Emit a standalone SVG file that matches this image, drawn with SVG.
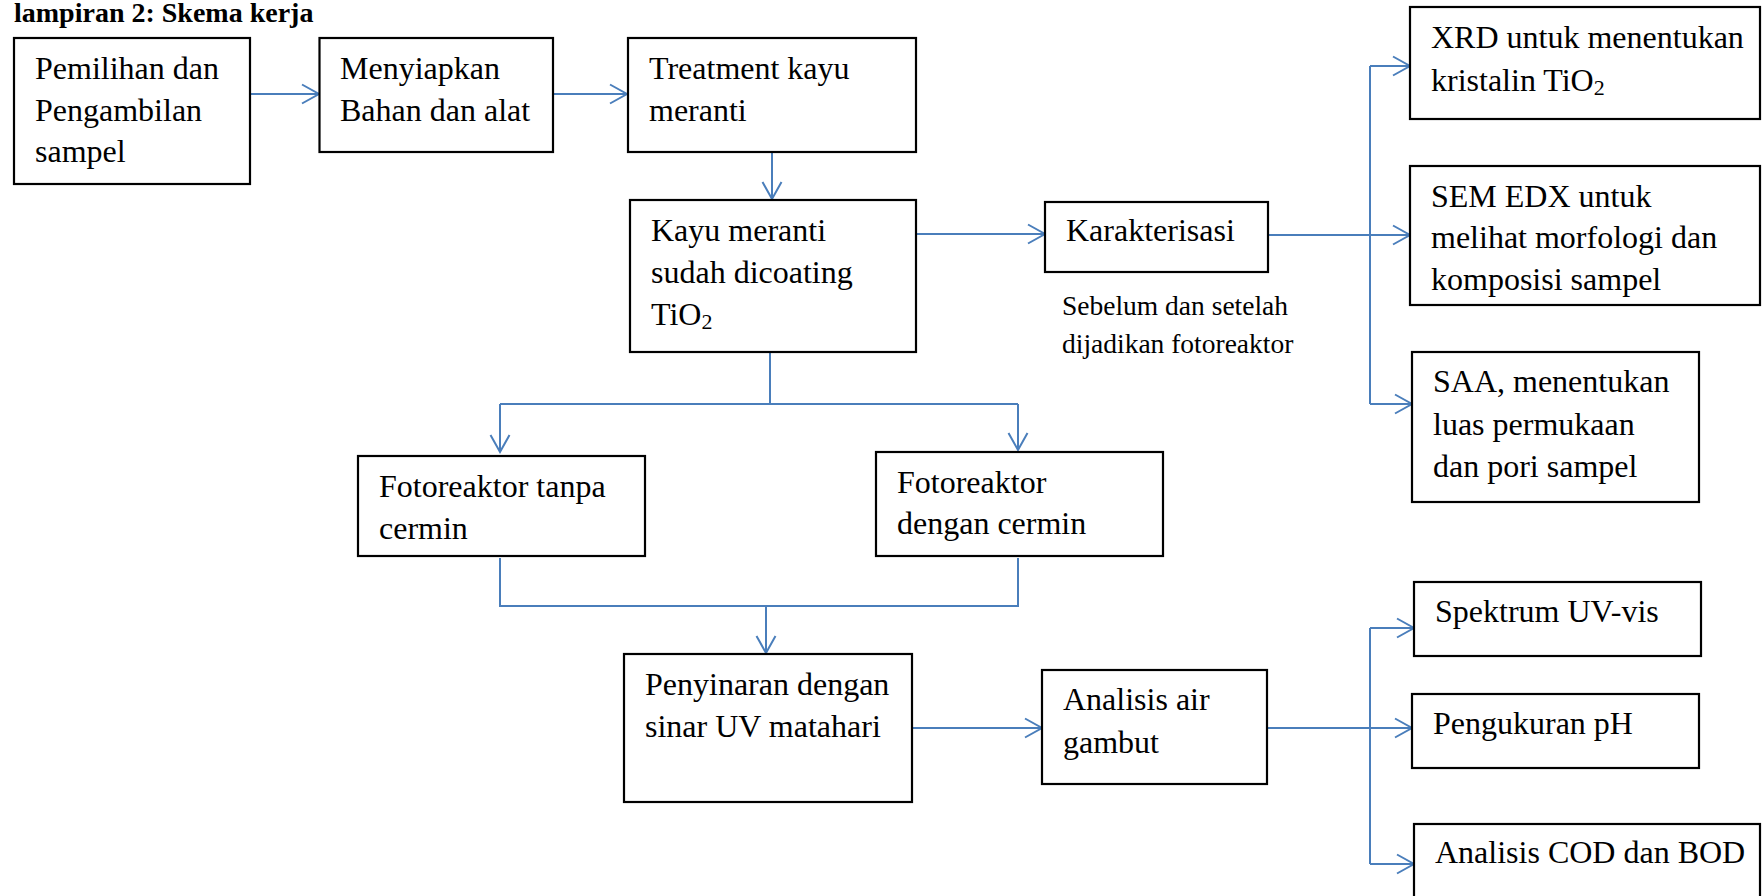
<svg xmlns="http://www.w3.org/2000/svg" width="1762" height="896" viewBox="0 0 1762 896">
<style>
  .box{fill:#fff;stroke:#000;stroke-width:2.2}
  .t{font-family:"Liberation Serif","Times New Roman",serif;font-size:32px;fill:#000}
  .note{font-family:"Liberation Serif","Times New Roman",serif;font-size:27.5px;fill:#000}
  .title{font-family:"Liberation Serif","Times New Roman",serif;font-size:28px;font-weight:bold;fill:#000}
  .c{fill:none;stroke:#4A7EBB;stroke-width:2}
  .a{marker-end:url(#ah)}
  .sub{font-size:22px}
</style>
<defs>
  <marker id="ah" markerUnits="userSpaceOnUse" markerWidth="24" markerHeight="24" viewBox="-20 -12 22 24" refX="0" refY="0" orient="auto" overflow="visible">
    <path d="M-17,-9.5 L0,0 L-17,9.5" fill="none" stroke="#4A7EBB" stroke-width="2"/>
  </marker>
</defs>
<rect width="1762" height="896" fill="#fff"/>
<text class="title" x="14" y="22">lampiran 2: Skema kerja</text>

<g id="connectors">
  <path class="c a" d="M250,94 H319"/>
  <path class="c a" d="M553,94 H627"/>
  <path class="c a" d="M772,152 V199"/>
  <path class="c a" d="M916,234 H1045"/>
  <path class="c" d="M1268,235 H1370"/>
  <path class="c" d="M1370,66 V404"/>
  <path class="c a" d="M1370,66 H1410"/>
  <path class="c a" d="M1370,235 H1410"/>
  <path class="c a" d="M1370,404 H1412"/>
  <path class="c" d="M770,352 V404"/>
  <path class="c" d="M500,404 H1018"/>
  <path class="c a" d="M500,404 V452"/>
  <path class="c a" d="M1018,404 V450"/>
  <path class="c" d="M500,558 V606 H1018 V558"/>
  <path class="c a" d="M766,606 V653"/>
  <path class="c a" d="M912,728 H1042"/>
  <path class="c" d="M1267,728 H1370"/>
  <path class="c" d="M1370,628 V864"/>
  <path class="c a" d="M1370,628 H1414"/>
  <path class="c a" d="M1370,728 H1412"/>
  <path class="c a" d="M1370,864 H1414"/>
</g>

<g id="n1"><rect class="box" x="14" y="38" width="236" height="146"/>
  <text class="t" x="35" y="79">Pemilihan dan</text>
  <text class="t" x="35" y="121">Pengambilan</text>
  <text class="t" x="35" y="162">sampel</text></g>

<g id="n2"><rect class="box" x="319.5" y="38" width="233.5" height="114"/>
  <text class="t" x="340" y="79">Menyiapkan</text>
  <text class="t" x="340" y="121">Bahan dan alat</text></g>

<g id="n3"><rect class="box" x="628" y="38" width="288" height="114"/>
  <text class="t" x="649" y="79">Treatment kayu</text>
  <text class="t" x="649" y="121">meranti</text></g>

<g id="n4"><rect class="box" x="630" y="200" width="286" height="152"/>
  <text class="t" x="651" y="241">Kayu meranti</text>
  <text class="t" x="651" y="283">sudah dicoating</text>
  <text class="t" x="651" y="325">TiO<tspan class="sub" dy="4">2</tspan></text></g>

<g id="n5"><rect class="box" x="1045" y="202" width="223" height="70"/>
  <text class="t" x="1066" y="241">Karakterisasi</text></g>

<g id="note"><text class="note" x="1062" y="315">Sebelum dan setelah</text>
  <text class="note" x="1062" y="353">dijadikan fotoreaktor</text></g>

<g id="n6"><rect class="box" x="1410" y="7" width="350" height="112"/>
  <text class="t" x="1431" y="48">XRD untuk menentukan</text>
  <text class="t" x="1431" y="91">kristalin TiO<tspan class="sub" dy="4">2</tspan></text></g>

<g id="n7"><rect class="box" x="1410" y="166" width="350" height="139"/>
  <text class="t" x="1431" y="207">SEM EDX untuk</text>
  <text class="t" x="1431" y="248">melihat morfologi dan</text>
  <text class="t" x="1431" y="290">komposisi sampel</text></g>

<g id="n8"><rect class="box" x="1412" y="352" width="287" height="150"/>
  <text class="t" x="1433" y="392">SAA, menentukan</text>
  <text class="t" x="1433" y="435">luas permukaan</text>
  <text class="t" x="1433" y="477">dan pori sampel</text></g>

<g id="n9"><rect class="box" x="358" y="456" width="287" height="100"/>
  <text class="t" x="379" y="497">Fotoreaktor tanpa</text>
  <text class="t" x="379" y="539">cermin</text></g>

<g id="n10"><rect class="box" x="876" y="452" width="287" height="104"/>
  <text class="t" x="897" y="493">Fotoreaktor</text>
  <text class="t" x="897" y="534">dengan cermin</text></g>

<g id="n11"><rect class="box" x="624" y="654" width="288" height="148"/>
  <text class="t" x="645" y="695">Penyinaran dengan</text>
  <text class="t" x="645" y="737">sinar UV matahari</text></g>

<g id="n12"><rect class="box" x="1042" y="670" width="225" height="114"/>
  <text class="t" x="1063" y="710">Analisis air</text>
  <text class="t" x="1063" y="753">gambut</text></g>

<g id="n13"><rect class="box" x="1414" y="582" width="287" height="74"/>
  <text class="t" x="1435" y="622">Spektrum UV-vis</text></g>

<g id="n14"><rect class="box" x="1412" y="694" width="287" height="74"/>
  <text class="t" x="1433" y="734">Pengukuran pH</text></g>

<g id="n15"><rect class="box" x="1414" y="824" width="346" height="90"/>
  <text class="t" x="1435" y="863">Analisis COD dan BOD</text></g>
</svg>
